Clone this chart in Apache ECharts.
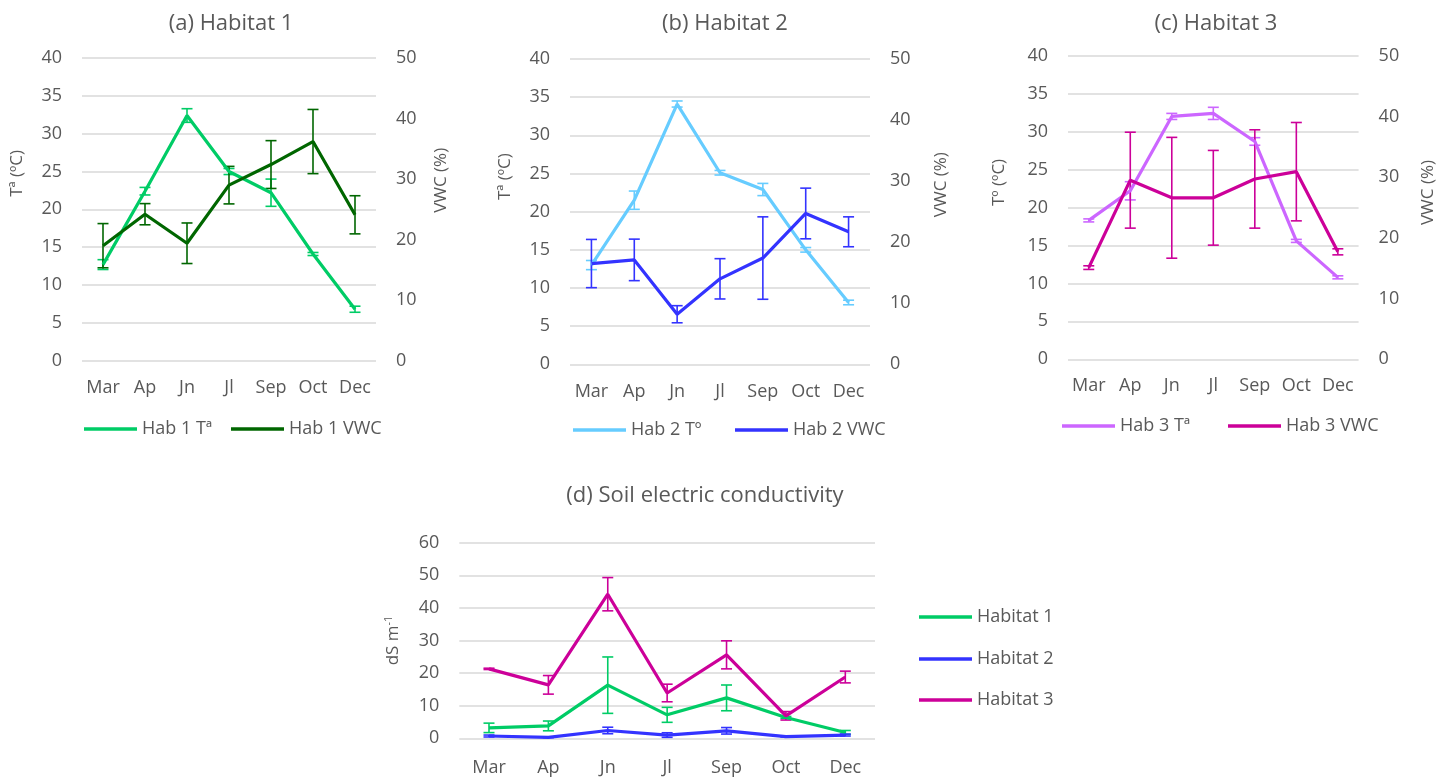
<!DOCTYPE html>
<html>
<head>
<meta charset="utf-8">
<title>Soil temperature, VWC and EC</title>
<script src="https://cdn.jsdelivr.net/npm/echarts@6/dist/echarts.min.js"></script>
<style>
  html, body { margin: 0; padding: 0; background: #fff; }
  #chart { width: 1451px; height: 781px; }
</style>
</head>
<body>
<div id="chart"></div>
<script>
// months on every x axis
const months = ['Mar', 'Ap', 'Jn', 'Jl', 'Sep', 'Oct', 'Dec'];

// Habitat 1
const hab1Temp = [12.7, 22.4, 32.4, 25.0, 22.2, 14.1, 6.8];
const hab1TempErr = [0.65, 0.5, 0.9, 0.4, 1.8, 0.2, 0.4];
const hab1Vwc = [19.0, 24.2, 19.4, 29.0, 32.4, 36.2, 24.1];
const hab1VwcErr = [3.65, 1.75, 3.35, 3.1, 3.95, 5.3, 3.15];

// Habitat 2
const hab2Temp = [13.0, 21.5, 34.1, 25.1, 22.9, 15.0, 8.1];
const hab2TempErr = [0.6, 1.2, 0.4, 0.3, 0.8, 0.3, 0.3];
const hab2Vwc = [16.5, 17.1, 8.2, 14.0, 17.4, 24.7, 21.7];
const hab2VwcErr = [3.95, 3.4, 1.4, 3.3, 6.75, 4.15, 2.45];

// Habitat 3
const hab3Temp = [18.3, 22.2, 32.0, 32.4, 28.7, 15.6, 10.8];
const hab3TempErr = [0.2, 1.2, 0.4, 0.8, 0.5, 0.2, 0.2];
const hab3Vwc = [15.1, 29.5, 26.6, 26.6, 29.7, 30.9, 17.7];
const hab3VwcErr = [0.3, 7.9, 9.95, 7.8, 8.1, 8.1, 0.5];

// soil electric conductivity (dS m-1)
const hab1Ec = [3.2, 3.8, 16.3, 7.2, 12.4, 6.4, 1.8];
const hab1EcErr = [1.45, 1.5, 8.65, 2.3, 3.95, 0.3, 0.6];
const hab2Ec = [0.7, 0.3, 2.4, 1.0, 2.3, 0.5, 1.0];
const hab2EcErr = [0.3, 0.1, 1.0, 0.7, 1.0, 0.1, 0.3];
const hab3Ec = [21.3, 16.4, 44.2, 13.9, 25.6, 6.9, 18.8];
const hab3EcErr = [0.2, 2.85, 5.1, 2.7, 4.3, 1.3, 1.8];

const FONT = '"Open Sans", "Noto Sans", sans-serif';
const TEXT = '#595959';
const GRIDLINE = '#d9d9d9';

const chart = echarts.init(document.getElementById('chart'), null, { renderer: 'canvas' });

// [index, low, high] for each month
function errRows(mean, err) {
    return mean.map((m, i) => [i, m - err[i], m + err[i]]);
}

function errorBars(name, color, mean, err, xIdx, yIdx) {
    return {
        name: name + ' err',
        type: 'custom',
        xAxisIndex: xIdx,
        yAxisIndex: yIdx,
        silent: true,
        encode: { x: 0, y: [1, 2] },
        data: errRows(mean, err),
        renderItem: (params, api) => {
            const i = api.value(0);
            const lo = api.coord([i, api.value(1)]);
            const hi = api.coord([i, api.value(2)]);
            const w = 5.5;
            const style = { stroke: color, lineWidth: 1.6 };
            return {
                type: 'group',
                children: [
                    { type: 'line', shape: { x1: lo[0], y1: lo[1], x2: hi[0], y2: hi[1] }, style },
                    { type: 'line', shape: { x1: lo[0] - w, y1: lo[1], x2: lo[0] + w, y2: lo[1] }, style },
                    { type: 'line', shape: { x1: hi[0] - w, y1: hi[1], x2: hi[0] + w, y2: hi[1] }, style }
                ]
            };
        }
    };
}

function lineSeries(name, color, data, xIdx, yIdx) {
    return {
        name: name,
        type: 'line',
        xAxisIndex: xIdx,
        yAxisIndex: yIdx,
        data: data,
        symbol: 'none',
        lineStyle: { color: color, width: 3.2 },
        itemStyle: { color: color },
        emphasis: { disabled: true }
    };
}

function xAxisFor(gridIndex, margin) {
    return {
        type: 'category',
        gridIndex: gridIndex,
        data: months,
        boundaryGap: true,
        axisLine: { show: false },
        axisTick: { show: false },
        axisLabel: { color: TEXT, fontSize: 18, fontFamily: FONT, margin: margin, interval: 0 }
    };
}

function yAxisFor(gridIndex, pos, max, interval, name, gap, shift, grid) {
    return {
        type: 'value',
        gridIndex: gridIndex,
        position: pos,
        min: 0,
        max: max,
        interval: interval,
        name: name,
        nameLocation: 'middle',
        nameGap: gap,
        nameTextStyle: {
            color: TEXT, fontSize: 17, fontFamily: FONT,
            padding: [0, 0, 0, shift * 2],
            rich: {
                sup: { color: TEXT, fontSize: 11, fontFamily: FONT, verticalAlign: 'top', padding: [0, 0, 8, 0] }
            }
        },
        axisLine: { show: false },
        axisTick: { show: false },
        axisLabel: { color: TEXT, fontSize: 18, fontFamily: FONT, margin: 20 },
        splitLine: { show: grid, lineStyle: { color: GRIDLINE, width: 1.5 } }
    };
}

function legendItem(name, left, centerY) {
    return {
        data: [name],
        left: left,
        top: centerY - 13,
        icon: 'rect',
        itemWidth: 53,
        itemHeight: 3.5,
        itemGap: 0,
        selectedMode: false,
        textStyle: { color: TEXT, fontSize: 18, fontFamily: FONT, lineHeight: 20 }
    };
}

const titleStyle = { color: TEXT, fontSize: 22, fontFamily: FONT, fontWeight: 'normal' };

const option = {
    backgroundColor: '#fff',
    animation: false,
    title: [
        { text: '(a) Habitat 1', left: 226, top: 8, textAlign: 'center', textStyle: titleStyle },
        { text: '(b) Habitat 2', left: 720, top: 8, textAlign: 'center', textStyle: titleStyle },
        { text: '(c) Habitat 3', left: 1211, top: 8, textAlign: 'center', textStyle: titleStyle },
        { text: '(d) Soil electric conductivity', left: 700, top: 480, textAlign: 'center', textStyle: titleStyle }
    ],
    grid: [
        { left: 82, top: 58, width: 294, height: 302.7 },
        { left: 570, top: 59, width: 300, height: 305.3 },
        { left: 1068, top: 55.7, width: 290.6, height: 303.6 },
        { left: 459.3, top: 542.7, width: 415.7, height: 195.6 }
    ],
    xAxis: [
        xAxisFor(0, 18),
        xAxisFor(1, 19),
        xAxisFor(2, 18),
        xAxisFor(3, 21)
    ],
    yAxis: [
        yAxisFor(0, 'left', 40, 5, 'Tª (ºC)', 56, 36, true),
        yAxisFor(0, 'right', 50, 10, 'VWC (%)', 57, 29, false),
        yAxisFor(1, 'left', 40, 5, 'Tª (ºC)', 56, 35, true),
        yAxisFor(1, 'right', 50, 10, 'VWC (%)', 63, 27, false),
        yAxisFor(2, 'left', 40, 5, 'Tº (ºC)', 60, 25, true),
        yAxisFor(2, 'right', 50, 10, 'VWC (%)', 61, 15, false),
        yAxisFor(3, 'left', 60, 10, 'dS m{sup|-1}', 57, 0, true)
    ],
    legend: [
        legendItem('Hab 1 Tª', 79, 427),
        legendItem('Hab 1 VWC', 226, 427),
        legendItem('Hab 2 Tº', 568, 428),
        legendItem('Hab 2 VWC', 730, 428),
        legendItem('Hab 3 Tª', 1057, 424),
        legendItem('Hab 3 VWC', 1223, 424),
        legendItem('Habitat 1', 914, 615),
        legendItem('Habitat 2', 914, 657),
        legendItem('Habitat 3', 914, 698)
    ],
    series: [
        // (a)
        lineSeries('Hab 1 Tª', '#00cc66', hab1Temp, 0, 0),
        errorBars('Hab 1 Tª', '#00cc66', hab1Temp, hab1TempErr, 0, 0),
        lineSeries('Hab 1 VWC', '#006600', hab1Vwc, 0, 1),
        errorBars('Hab 1 VWC', '#006600', hab1Vwc, hab1VwcErr, 0, 1),
        // (b)
        lineSeries('Hab 2 Tº', '#66ccff', hab2Temp, 1, 2),
        errorBars('Hab 2 Tº', '#66ccff', hab2Temp, hab2TempErr, 1, 2),
        lineSeries('Hab 2 VWC', '#3333ff', hab2Vwc, 1, 3),
        errorBars('Hab 2 VWC', '#3333ff', hab2Vwc, hab2VwcErr, 1, 3),
        // (c)
        lineSeries('Hab 3 Tª', '#cc66ff', hab3Temp, 2, 4),
        errorBars('Hab 3 Tª', '#cc66ff', hab3Temp, hab3TempErr, 2, 4),
        lineSeries('Hab 3 VWC', '#cc0099', hab3Vwc, 2, 5),
        errorBars('Hab 3 VWC', '#cc0099', hab3Vwc, hab3VwcErr, 2, 5),
        // (d)
        lineSeries('Habitat 1', '#00cc66', hab1Ec, 3, 6),
        errorBars('Habitat 1', '#00cc66', hab1Ec, hab1EcErr, 3, 6),
        lineSeries('Habitat 2', '#3333ff', hab2Ec, 3, 6),
        errorBars('Habitat 2', '#3333ff', hab2Ec, hab2EcErr, 3, 6),
        lineSeries('Habitat 3', '#cc0099', hab3Ec, 3, 6),
        errorBars('Habitat 3', '#cc0099', hab3Ec, hab3EcErr, 3, 6)
    ]
};

chart.setOption(option);
</script>
</body>
</html>
